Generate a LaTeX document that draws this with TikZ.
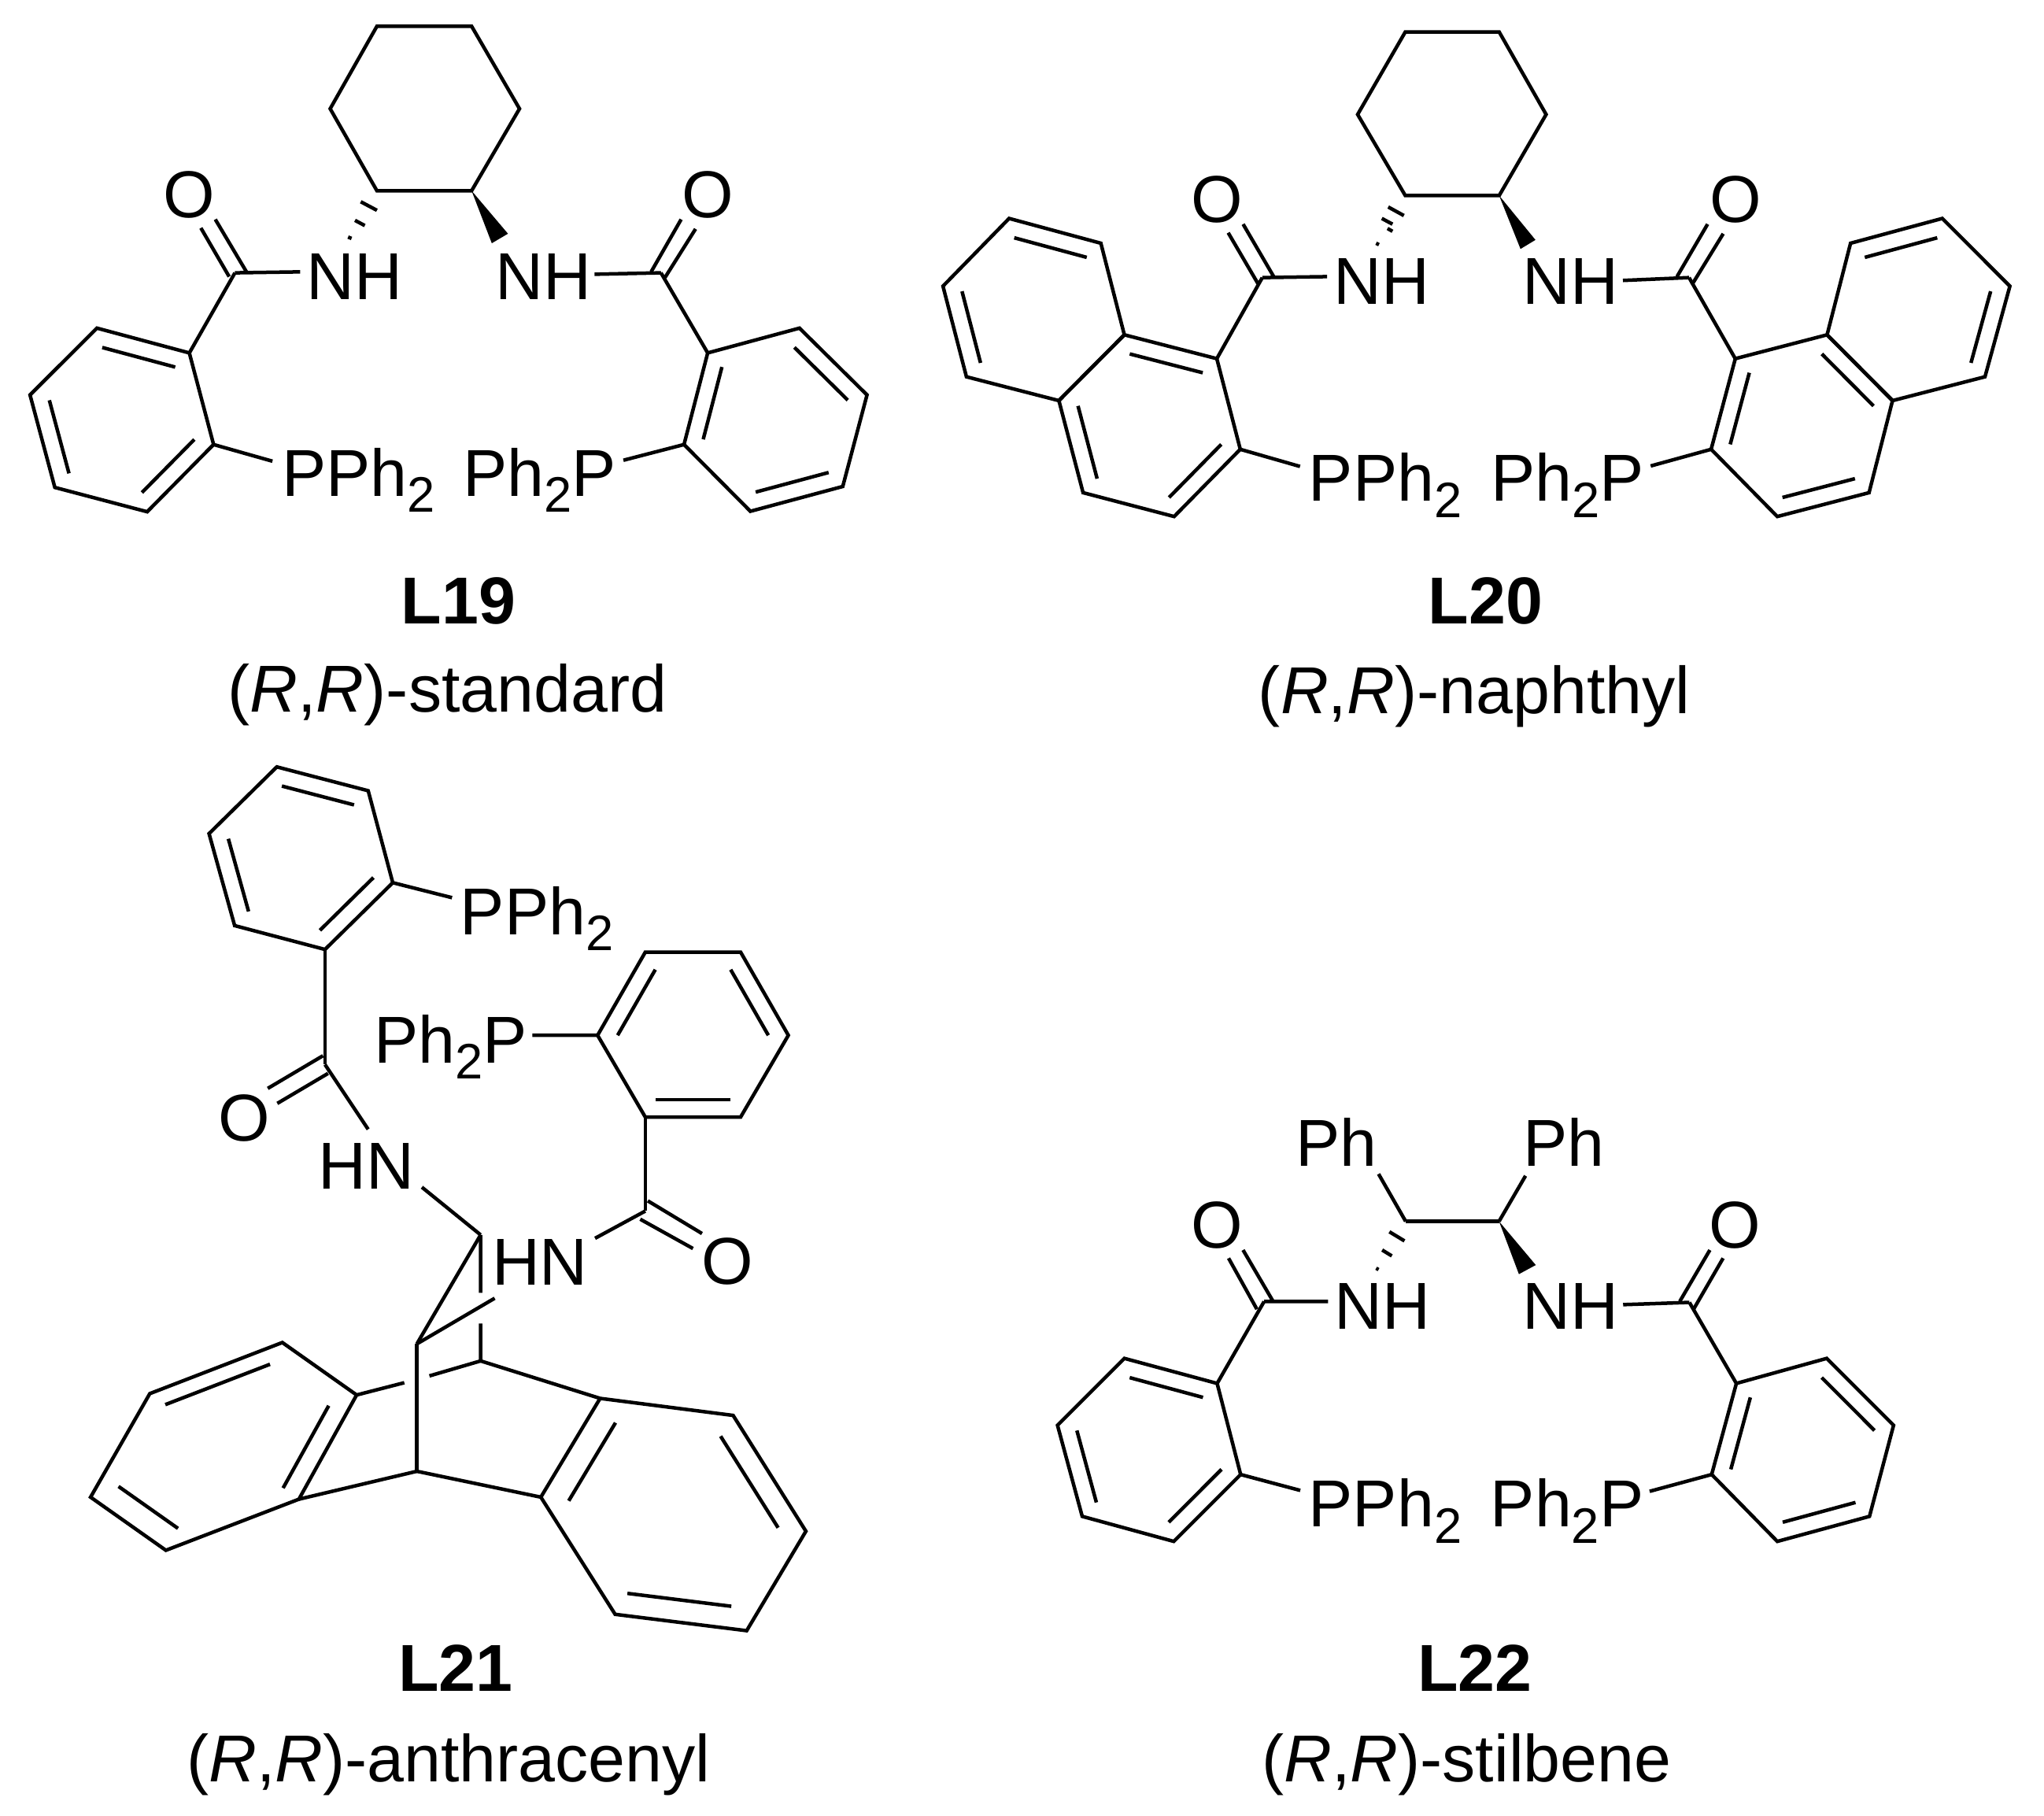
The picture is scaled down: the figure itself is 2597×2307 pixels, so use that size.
\documentclass[tikz,border=0pt]{standalone}
\usepackage{fontspec}
\setmainfont{Liberation Sans}
\usetikzlibrary{calc}
\tikzset{
  bond/.style={line width=1.35pt,line join=miter,line cap=butt,black},
  lab/.style={inner sep=0pt,outer sep=0pt,anchor=base,yshift=-0.6pt,font=\fontsize{25.3}{30}\selectfont},
  tag/.style={lab,font=\fontsize{25.3}{30}\selectfont\bfseries},
  xf/.style n args={4}{shift={(#1,#2)},xscale=#3,yscale=#4}
}
\newcommand{\subtwo}{\raisebox{-0.24em}{\fontsize{19}{20}\selectfont 2}}
% six-membered ring: prefix, six vertices
\newcommand{\ringsix}[7]{%
  \draw[bond] #2 coordinate (#1a) -- #3 coordinate (#1b) -- #4 coordinate (#1c) -- #5 coordinate (#1d) -- #6 coordinate (#1e) -- #7 coordinate (#1f) -- cycle;
  \coordinate (#1o) at ($(#1a)!.5!(#1d)$);}
% aromatic inner line parallel to the edge #2-#3 of ring #1
\newcommand{\dbl}[3]{\draw[bond] ($(#1#2)!.21!(#1o)$) -- ($(#1#3)!.21!(#1o)$);}
\begin{document}
\begin{tikzpicture}[x=0.3pt,y=-0.3pt]
\useasboundingbox (0,0) rectangle (2597,2307);
\fill[white] (0,0) rectangle (2597,2307);

%% ---------- L19
\begin{scope}[xf={0}{0}{.7334}{.6059}]
\ringsix{ah}{(653,55)}{(817,55)}{(900,228)}{(817,400)}{(653,400)}{(572,228)}
\ringsix{al}{(328,740)}{(168,688)}{(52,828)}{(95,1022)}{(255,1073)}{(370,932)}
\dbl{al}{a}{b}\dbl{al}{c}{d}\dbl{al}{e}{f}
\ringsix{ar}{(1226,740)}{(1385,688)}{(1502,828)}{(1460,1020)}{(1300,1072)}{(1185,932)}
\dbl{ar}{f}{a}\dbl{ar}{b}{c}\dbl{ar}{d}{e}
\node[lab] (aO1) at (327,453) {O};
\node[lab] (aO2) at (1226,453) {O};
\node[lab] (aN1) at (614,625) {NH};
\node[lab] (aN2) at (941,625) {NH};
\node[lab] (aP1) at (621,1037) {PPh\subtwo};
\node[lab] (aP2) at (935,1037) {Ph\subtwo P};
\node[tag] (aT) at (794,1305) {L19};
\node[lab] (aS) at (775,1490) {(\textit{R},\textit{R})-standard};
\coordinate (aC1) at (407,572); \coordinate (aC2) at (1145,572);
\draw[bond] (aC1) -- (ala);
\draw[bond] (aC2) -- (ara);
\draw[bond] (aC1) -- (520,570) coordinate (aN1e);
\draw[bond] (aC2) -- (1030,575) coordinate (aN2e);
\draw[bond] (373,460) coordinate (aO1a) -- (427,570) coordinate (aO1b);
\draw[bond] (348,478) coordinate (aO1c) -- (397,580) coordinate (aO1d);
\draw[bond] (1180,460) coordinate (aO2a) -- (1128,570) coordinate (aO2b);
\draw[bond] (1205,480) coordinate (aO2c) -- (1152,582) coordinate (aO2d);
\draw[bond] (alf) -- (472,967) coordinate (aP1e);
\draw[bond] (arf) -- (1080,965) coordinate (aP2e);
\fill (ahd) -- (852,510) coordinate (aW1) -- (880,490) coordinate (aW2) -- cycle;
\draw[bond] (625,423) -- (653,441);
\draw[bond] (615,462) -- (632,473);
\draw[bond] (603,497) -- (609,500);
\end{scope}

%% ---------- L20
\begin{scope}[xf={1180}{0}{.9037}{.6059}]
\ringsix{bh}{(670,67)}{(802,67)}{(868,240)}{(802,410)}{(670,410)}{(603,240)}
\ringsix{bl}{(405,752)}{(275,702)}{(183,840)}{(217,1033)}{(345,1083)}{(438,942)}
\dbl{bl}{a}{b}\dbl{bl}{c}{d}\dbl{bl}{e}{f}
\ringsix{bm}{(275,702)}{(242,510)}{(113,458)}{(20,600)}{(53,790)}{(183,840)}
\dbl{bm}{b}{c}\dbl{bm}{d}{e}
\ringsix{br}{(1134,752)}{(1263,702)}{(1355,840)}{(1322,1033)}{(1193,1083)}{(1100,942)}
\dbl{br}{f}{a}\dbl{br}{b}{c}\dbl{br}{d}{e}
\ringsix{bs}{(1263,702)}{(1296,510)}{(1425,458)}{(1520,600)}{(1485,790)}{(1355,840)}
\dbl{bs}{b}{c}\dbl{bs}{d}{e}
\node[lab] (bO1) at (405,463) {O};
\node[lab] (bO2) at (1134,463) {O};
\node[lab] (bN1) at (637,635) {NH};
\node[lab] (bN2) at (902,635) {NH};
\node[lab] (bP1) at (642,1048) {PPh\subtwo};
\node[lab] (bP2) at (898,1048) {Ph\subtwo P};
\node[tag] (bT) at (783,1305) {L20};
\node[lab] (bS) at (767,1493) {(\textit{R},\textit{R})-naphthyl};
\coordinate (bC1) at (469,582); \coordinate (bC2) at (1069,582);
\draw[bond] (bC1) -- (bla);
\draw[bond] (bC2) -- (bra);
\draw[bond] (bC1) -- (560,580) coordinate (bN1e);
\draw[bond] (bC2) -- (976,588) coordinate (bN2e);
\draw[bond] (442,470) -- (485,580);
\draw[bond] (421,488) -- (463,595);
\draw[bond] (1095,470) -- (1052,580);
\draw[bond] (1117,490) -- (1073,597);
\draw[bond] (blf) -- (522,978) coordinate (bP1e);
\draw[bond] (brf) -- (1015,977) coordinate (bP2e);
\fill (bhd) -- (832,522) coordinate (bW1) -- (853,503) coordinate (bW2) -- cycle;
\draw[bond] (646,434) -- (668,452);
\draw[bond] (637,458) -- (652,470);
\draw[bond] (645,479) -- (652,485);
\draw[bond] (629,510) -- (633,513);
\end{scope}

%% ---------- L21
\begin{scope}[xf={80}{950}{.6378}{.8654}]
\ringsix{ct}{(522,296)}{(657,198)}{(608,63)}{(426,28)}{(291,126)}{(342,261)}
\dbl{ct}{a}{b}\dbl{ct}{c}{d}\dbl{ct}{e}{f}
\ringsix{cr}{(1065,422)}{(1160,300)}{(1350,300)}{(1445,422)}{(1350,542)}{(1160,542)}
\dbl{cr}{a}{b}\dbl{cr}{c}{d}\dbl{cr}{e}{f}
\ringsix{cl}{(585,950)}{(437,873)}{(173,948)}{(55,1100)}{(205,1178)}{(470,1103)}
\dbl{cl}{f}{a}\dbl{cl}{b}{c}\dbl{cl}{d}{e}
\ringsix{cb}{(1070,955)}{(1335,980)}{(1480,1150)}{(1362,1296)}{(1100,1272)}{(952,1100)}
\dbl{cb}{f}{a}\dbl{cb}{b}{c}\dbl{cb}{d}{e}
\node[lab] (cO1) at (361,575) {O};
\node[lab] (cO2) at (1324,785) {O};
\node[lab] (cN1) at (604,645) {HN};
\node[lab] (cN2) at (950,786) {HN};
\node[lab] (cP1) at (944,272) {PPh\subtwo};
\node[lab] (cP2) at (772,460) {Ph\subtwo P};
\node[tag] (cT) at (782,1382) {L21};
\node[lab] (cS) at (768,1515) {(\textit{R},\textit{R})-anthracenyl};
\coordinate (cC1) at (522,465); \coordinate (cC2) at (1160,680);
\coordinate (cA) at (832,715); \coordinate (cB) at (705,875);
\coordinate (cD) at (832,900); \coordinate (cE) at (705,1062);
\draw[bond] (cta) -- (cC1);
\draw[bond] (crf) -- (cC2);
\draw[bond] (408,500) -- (518,452);
\draw[bond] (427,522) -- (528,478);
\draw[bond] (1165,665) -- (1273,713);
\draw[bond] (1150,692) -- (1255,735);
\draw[bond] (cC1) -- (608,560) coordinate (cN1e);
\draw[bond] (cC2) -- (1060,720) coordinate (cN2e);
\draw[bond] (ctb) -- (775,220) coordinate (cP1e);
\draw[bond] (cra) -- (935,422) coordinate (cP2e);
\draw[bond] (715,645) coordinate (cN1f) -- (cA);
\draw[bond] (cA) -- (cB);
\draw[bond] (cA) -- (832,800) coordinate (cAe);
\draw[bond] (832,845) coordinate (cDe) -- (cD);
\draw[bond] (cB) -- (860,808) coordinate (cN2f);
\draw[bond] (cB) -- (cE);
\draw[bond] (cD) -- (730,922) coordinate (cDg);
\draw[bond] (680,932) coordinate (cGg) -- (cla);
\draw[bond] (cD) -- (cba);
\draw[bond] (cE) -- (clf);
\draw[bond] (cE) -- (cbf);
\end{scope}

%% ---------- L22
\begin{scope}[xf={1300}{1400}{.7653}{.5784}]
\ringsix{dl}{(322,618)}{(168,563)}{(57,710)}{(98,910)}{(250,965)}{(361,818)}
\dbl{dl}{a}{b}\dbl{dl}{c}{d}\dbl{dl}{e}{f}
\ringsix{dr}{(1184,618)}{(1334,563)}{(1445,710)}{(1405,910)}{(1252,965)}{(1143,818)}
\dbl{dr}{f}{a}\dbl{dr}{b}{c}\dbl{dr}{d}{e}
\node[lab] (dH1) at (520,137) {Ph};
\node[lab] (dH2) at (898,137) {Ph};
\node[lab] (dO1) at (322,318) {O};
\node[lab] (dO2) at (1182,318) {O};
\node[lab] (dN1) at (596,495) {NH};
\node[lab] (dN2) at (909,495) {NH};
\node[lab] (dP1) at (601,930) {PPh\subtwo};
\node[lab] (dP2) at (903,930) {Ph\subtwo P};
\node[tag] (dT) at (750,1290) {L22};
\node[lab] (dS) at (736,1490) {(\textit{R},\textit{R})-stilbene};
\coordinate (dA) at (635,262); \coordinate (dB) at (790,262);
\coordinate (dC1) at (400,438); \coordinate (dC2) at (1106,440);
\draw[bond] (dA) -- (dB);
\draw[bond] (590,158) coordinate (dH1e) -- (dA);
\draw[bond] (834,162) coordinate (dH2e) -- (dB);
\draw[bond] (dC1) -- (dla);
\draw[bond] (dC2) -- (dra);
\draw[bond] (dC1) -- (506,438) coordinate (dN1e);
\draw[bond] (dC2) -- (996,445) coordinate (dN2e);
\draw[bond] (365,325) -- (415,438);
\draw[bond] (341,343) -- (388,455);
\draw[bond] (1140,325) -- (1090,438);
\draw[bond] (1162,343) -- (1113,455);
\draw[bond] (dlf) -- (460,853) coordinate (dP1e);
\draw[bond] (drf) -- (1040,855) coordinate (dP2e);
\fill (dB) -- (823,378) coordinate (dW1) -- (851,358) coordinate (dW2) -- cycle;
\draw[bond] (608,285) -- (633,305);
\draw[bond] (596,325) -- (612,338);
\draw[bond] (586,365) -- (590,368);
\end{scope}
\end{tikzpicture}
\end{document}
